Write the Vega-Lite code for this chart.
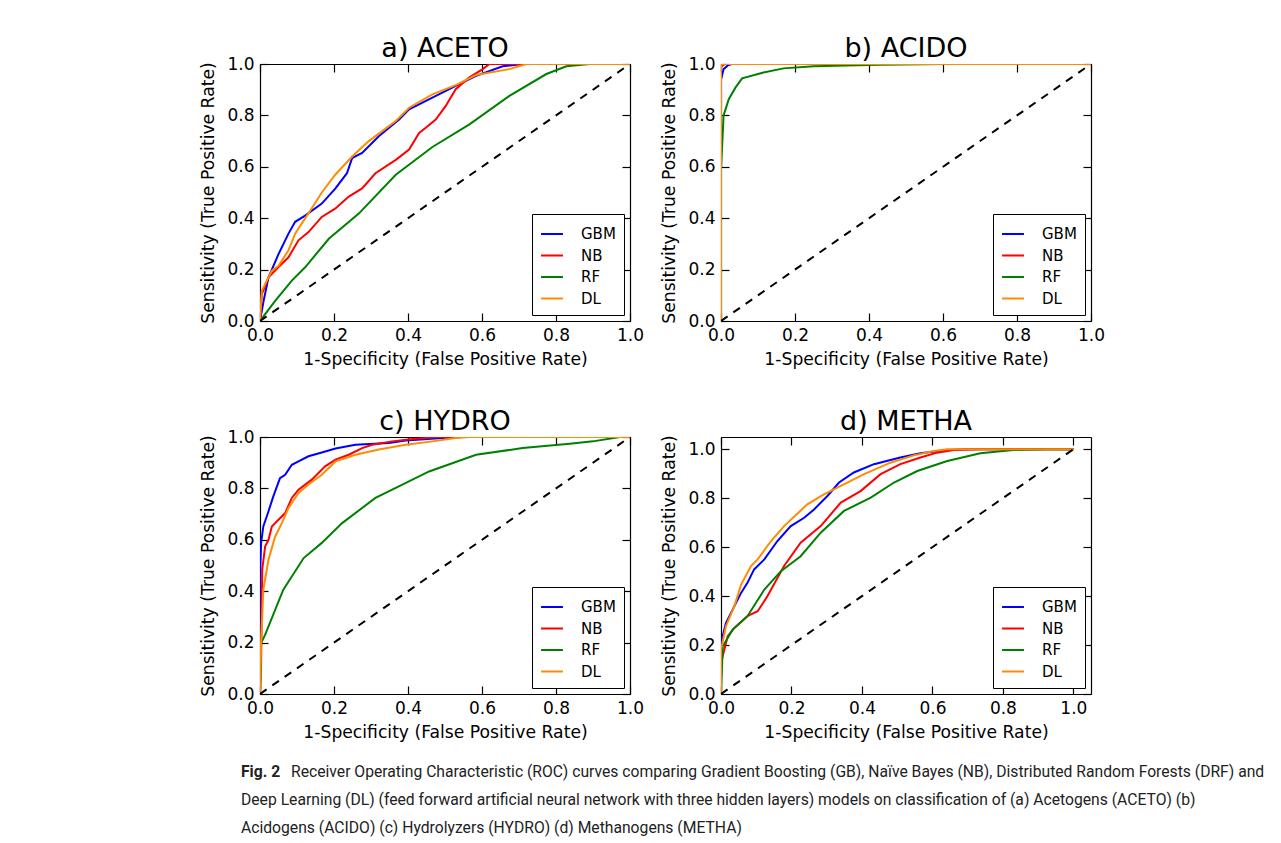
{
  "$schema": "https://vega.github.io/schema/vega-lite/v6.json",
  "background": "white",
  "padding": {"left": 199, "top": 35, "right": 5, "bottom": 5},
  "datasets": {
    "roc": [
      {"p":"a","m":"GBM","i":0,"x":0,"y":0},{"p":"a","m":"GBM","i":1,"x":0.01,"y":0.08},{"p":"a","m":"GBM","i":2,"x":0.023,"y":0.17},{"p":"a","m":"GBM","i":3,"x":0.05,"y":0.26},{"p":"a","m":"GBM","i":4,"x":0.077,"y":0.34},{"p":"a","m":"GBM","i":5,"x":0.095,"y":0.386},{"p":"a","m":"GBM","i":6,"x":0.122,"y":0.41},{"p":"a","m":"GBM","i":7,"x":0.167,"y":0.457},{"p":"a","m":"GBM","i":8,"x":0.204,"y":0.516},{"p":"a","m":"GBM","i":9,"x":0.235,"y":0.575},{"p":"a","m":"GBM","i":10,"x":0.249,"y":0.634},{"p":"a","m":"GBM","i":11,"x":0.276,"y":0.654},{"p":"a","m":"GBM","i":12,"x":0.321,"y":0.719},{"p":"a","m":"GBM","i":13,"x":0.376,"y":0.784},{"p":"a","m":"GBM","i":14,"x":0.403,"y":0.824},{"p":"a","m":"GBM","i":15,"x":0.466,"y":0.869},{"p":"a","m":"GBM","i":16,"x":0.529,"y":0.915},{"p":"a","m":"GBM","i":17,"x":0.584,"y":0.954},{"p":"a","m":"GBM","i":18,"x":0.656,"y":0.991},{"p":"a","m":"GBM","i":19,"x":0.71,"y":1.0},{"p":"a","m":"GBM","i":20,"x":1,"y":1},
      {"p":"a","m":"NB","i":0,"x":0,"y":0},{"p":"a","m":"NB","i":1,"x":0.005,"y":0.105},{"p":"a","m":"NB","i":2,"x":0.023,"y":0.17},{"p":"a","m":"NB","i":3,"x":0.05,"y":0.21},{"p":"a","m":"NB","i":4,"x":0.077,"y":0.248},{"p":"a","m":"NB","i":5,"x":0.104,"y":0.314},{"p":"a","m":"NB","i":6,"x":0.131,"y":0.346},{"p":"a","m":"NB","i":7,"x":0.167,"y":0.405},{"p":"a","m":"NB","i":8,"x":0.204,"y":0.438},{"p":"a","m":"NB","i":9,"x":0.24,"y":0.484},{"p":"a","m":"NB","i":10,"x":0.276,"y":0.516},{"p":"a","m":"NB","i":11,"x":0.312,"y":0.575},{"p":"a","m":"NB","i":12,"x":0.367,"y":0.627},{"p":"a","m":"NB","i":13,"x":0.403,"y":0.667},{"p":"a","m":"NB","i":14,"x":0.43,"y":0.732},{"p":"a","m":"NB","i":15,"x":0.448,"y":0.752},{"p":"a","m":"NB","i":16,"x":0.475,"y":0.784},{"p":"a","m":"NB","i":17,"x":0.502,"y":0.837},{"p":"a","m":"NB","i":18,"x":0.529,"y":0.902},{"p":"a","m":"NB","i":19,"x":0.566,"y":0.948},{"p":"a","m":"NB","i":20,"x":0.602,"y":0.98},{"p":"a","m":"NB","i":21,"x":0.62,"y":1.0},{"p":"a","m":"NB","i":22,"x":1,"y":1},
      {"p":"a","m":"RF","i":0,"x":0,"y":0},{"p":"a","m":"RF","i":1,"x":0.041,"y":0.078},{"p":"a","m":"RF","i":2,"x":0.086,"y":0.157},{"p":"a","m":"RF","i":3,"x":0.122,"y":0.209},{"p":"a","m":"RF","i":4,"x":0.186,"y":0.32},{"p":"a","m":"RF","i":5,"x":0.267,"y":0.418},{"p":"a","m":"RF","i":6,"x":0.367,"y":0.569},{"p":"a","m":"RF","i":7,"x":0.466,"y":0.677},{"p":"a","m":"RF","i":8,"x":0.566,"y":0.765},{"p":"a","m":"RF","i":9,"x":0.674,"y":0.876},{"p":"a","m":"RF","i":10,"x":0.774,"y":0.961},{"p":"a","m":"RF","i":11,"x":0.828,"y":0.991},{"p":"a","m":"RF","i":12,"x":0.891,"y":1.0},{"p":"a","m":"RF","i":13,"x":1,"y":1},
      {"p":"a","m":"DL","i":0,"x":0,"y":0},{"p":"a","m":"DL","i":1,"x":0.005,"y":0.118},{"p":"a","m":"DL","i":2,"x":0.032,"y":0.196},{"p":"a","m":"DL","i":3,"x":0.05,"y":0.215},{"p":"a","m":"DL","i":4,"x":0.077,"y":0.275},{"p":"a","m":"DL","i":5,"x":0.095,"y":0.34},{"p":"a","m":"DL","i":6,"x":0.113,"y":0.38},{"p":"a","m":"DL","i":7,"x":0.136,"y":0.43},{"p":"a","m":"DL","i":8,"x":0.167,"y":0.5},{"p":"a","m":"DL","i":9,"x":0.204,"y":0.57},{"p":"a","m":"DL","i":10,"x":0.249,"y":0.64},{"p":"a","m":"DL","i":11,"x":0.294,"y":0.70},{"p":"a","m":"DL","i":12,"x":0.33,"y":0.739},{"p":"a","m":"DL","i":13,"x":0.367,"y":0.778},{"p":"a","m":"DL","i":14,"x":0.403,"y":0.83},{"p":"a","m":"DL","i":15,"x":0.466,"y":0.882},{"p":"a","m":"DL","i":16,"x":0.529,"y":0.918},{"p":"a","m":"DL","i":17,"x":0.584,"y":0.957},{"p":"a","m":"DL","i":18,"x":0.674,"y":0.98},{"p":"a","m":"DL","i":19,"x":0.72,"y":1.0},{"p":"a","m":"DL","i":20,"x":1,"y":1},

      {"p":"b","m":"GBM","i":0,"x":0,"y":0},{"p":"b","m":"GBM","i":1,"x":0,"y":0.94},{"p":"b","m":"GBM","i":2,"x":0.007,"y":0.98},{"p":"b","m":"GBM","i":3,"x":0.02,"y":0.996},{"p":"b","m":"GBM","i":4,"x":0.03,"y":1},{"p":"b","m":"GBM","i":5,"x":1,"y":1},
      {"p":"b","m":"NB","i":0,"x":0,"y":0},{"p":"b","m":"NB","i":1,"x":0,"y":0.99},{"p":"b","m":"NB","i":2,"x":0.01,"y":1},{"p":"b","m":"NB","i":3,"x":1,"y":1},
      {"p":"b","m":"RF","i":0,"x":0,"y":0},{"p":"b","m":"RF","i":1,"x":0,"y":0.59},{"p":"b","m":"RF","i":2,"x":0.007,"y":0.80},{"p":"b","m":"RF","i":3,"x":0.021,"y":0.863},{"p":"b","m":"RF","i":4,"x":0.039,"y":0.908},{"p":"b","m":"RF","i":5,"x":0.057,"y":0.944},{"p":"b","m":"RF","i":6,"x":0.115,"y":0.967},{"p":"b","m":"RF","i":7,"x":0.169,"y":0.983},{"p":"b","m":"RF","i":8,"x":0.25,"y":0.991},{"p":"b","m":"RF","i":9,"x":0.43,"y":0.997},{"p":"b","m":"RF","i":10,"x":0.61,"y":1},{"p":"b","m":"RF","i":11,"x":1,"y":1},
      {"p":"b","m":"DL","i":0,"x":0,"y":0},{"p":"b","m":"DL","i":1,"x":0,"y":0.995},{"p":"b","m":"DL","i":2,"x":0.005,"y":1},{"p":"b","m":"DL","i":3,"x":1,"y":1},

      {"p":"c","m":"GBM","i":0,"x":0,"y":0},{"p":"c","m":"GBM","i":1,"x":0.001,"y":0.5},{"p":"c","m":"GBM","i":2,"x":0.003,"y":0.588},{"p":"c","m":"GBM","i":3,"x":0.009,"y":0.652},{"p":"c","m":"GBM","i":4,"x":0.023,"y":0.711},{"p":"c","m":"GBM","i":5,"x":0.036,"y":0.769},{"p":"c","m":"GBM","i":6,"x":0.054,"y":0.84},{"p":"c","m":"GBM","i":7,"x":0.068,"y":0.853},{"p":"c","m":"GBM","i":8,"x":0.086,"y":0.892},{"p":"c","m":"GBM","i":9,"x":0.104,"y":0.905},{"p":"c","m":"GBM","i":10,"x":0.131,"y":0.925},{"p":"c","m":"GBM","i":11,"x":0.167,"y":0.94},{"p":"c","m":"GBM","i":12,"x":0.204,"y":0.955},{"p":"c","m":"GBM","i":13,"x":0.258,"y":0.97},{"p":"c","m":"GBM","i":14,"x":0.348,"y":0.977},{"p":"c","m":"GBM","i":15,"x":0.394,"y":0.986},{"p":"c","m":"GBM","i":16,"x":0.493,"y":0.996},{"p":"c","m":"GBM","i":17,"x":0.548,"y":1},{"p":"c","m":"GBM","i":18,"x":1,"y":1},
      {"p":"c","m":"NB","i":0,"x":0,"y":0},{"p":"c","m":"NB","i":1,"x":0.003,"y":0.12},{"p":"c","m":"NB","i":2,"x":0.006,"y":0.484},{"p":"c","m":"NB","i":3,"x":0.014,"y":0.575},{"p":"c","m":"NB","i":4,"x":0.023,"y":0.60},{"p":"c","m":"NB","i":5,"x":0.032,"y":0.652},{"p":"c","m":"NB","i":6,"x":0.05,"y":0.678},{"p":"c","m":"NB","i":7,"x":0.068,"y":0.704},{"p":"c","m":"NB","i":8,"x":0.086,"y":0.763},{"p":"c","m":"NB","i":9,"x":0.104,"y":0.795},{"p":"c","m":"NB","i":10,"x":0.14,"y":0.834},{"p":"c","m":"NB","i":11,"x":0.176,"y":0.886},{"p":"c","m":"NB","i":12,"x":0.204,"y":0.912},{"p":"c","m":"NB","i":13,"x":0.24,"y":0.931},{"p":"c","m":"NB","i":14,"x":0.276,"y":0.957},{"p":"c","m":"NB","i":15,"x":0.303,"y":0.97},{"p":"c","m":"NB","i":16,"x":0.357,"y":0.983},{"p":"c","m":"NB","i":17,"x":0.412,"y":0.992},{"p":"c","m":"NB","i":18,"x":0.484,"y":1},{"p":"c","m":"NB","i":19,"x":1,"y":1},
      {"p":"c","m":"RF","i":0,"x":0,"y":0},{"p":"c","m":"RF","i":1,"x":0.003,"y":0.198},{"p":"c","m":"RF","i":2,"x":0.014,"y":0.231},{"p":"c","m":"RF","i":3,"x":0.063,"y":0.406},{"p":"c","m":"RF","i":4,"x":0.118,"y":0.529},{"p":"c","m":"RF","i":5,"x":0.167,"y":0.588},{"p":"c","m":"RF","i":6,"x":0.222,"y":0.665},{"p":"c","m":"RF","i":7,"x":0.312,"y":0.763},{"p":"c","m":"RF","i":8,"x":0.367,"y":0.802},{"p":"c","m":"RF","i":9,"x":0.457,"y":0.866},{"p":"c","m":"RF","i":10,"x":0.584,"y":0.931},{"p":"c","m":"RF","i":11,"x":0.71,"y":0.957},{"p":"c","m":"RF","i":12,"x":0.837,"y":0.974},{"p":"c","m":"RF","i":13,"x":0.9,"y":0.983},{"p":"c","m":"RF","i":14,"x":0.973,"y":1},{"p":"c","m":"RF","i":15,"x":1,"y":1},
      {"p":"c","m":"DL","i":0,"x":0,"y":0},{"p":"c","m":"DL","i":1,"x":0.003,"y":0.198},{"p":"c","m":"DL","i":2,"x":0.009,"y":0.406},{"p":"c","m":"DL","i":3,"x":0.023,"y":0.523},{"p":"c","m":"DL","i":4,"x":0.041,"y":0.613},{"p":"c","m":"DL","i":5,"x":0.059,"y":0.665},{"p":"c","m":"DL","i":6,"x":0.077,"y":0.724},{"p":"c","m":"DL","i":7,"x":0.104,"y":0.782},{"p":"c","m":"DL","i":8,"x":0.131,"y":0.815},{"p":"c","m":"DL","i":9,"x":0.167,"y":0.853},{"p":"c","m":"DL","i":10,"x":0.204,"y":0.905},{"p":"c","m":"DL","i":11,"x":0.258,"y":0.931},{"p":"c","m":"DL","i":12,"x":0.321,"y":0.951},{"p":"c","m":"DL","i":13,"x":0.394,"y":0.97},{"p":"c","m":"DL","i":14,"x":0.466,"y":0.983},{"p":"c","m":"DL","i":15,"x":0.529,"y":0.996},{"p":"c","m":"DL","i":16,"x":0.566,"y":1},{"p":"c","m":"DL","i":17,"x":1,"y":1},

      {"p":"d","m":"GBM","i":0,"x":0,"y":0},{"p":"d","m":"GBM","i":1,"x":0,"y":0.209},{"p":"d","m":"GBM","i":2,"x":0.014,"y":0.29},{"p":"d","m":"GBM","i":3,"x":0.038,"y":0.359},{"p":"d","m":"GBM","i":4,"x":0.057,"y":0.413},{"p":"d","m":"GBM","i":5,"x":0.075,"y":0.454},{"p":"d","m":"GBM","i":6,"x":0.094,"y":0.509},{"p":"d","m":"GBM","i":7,"x":0.123,"y":0.55},{"p":"d","m":"GBM","i":8,"x":0.16,"y":0.625},{"p":"d","m":"GBM","i":9,"x":0.198,"y":0.686},{"p":"d","m":"GBM","i":10,"x":0.236,"y":0.72},{"p":"d","m":"GBM","i":11,"x":0.264,"y":0.754},{"p":"d","m":"GBM","i":12,"x":0.302,"y":0.809},{"p":"d","m":"GBM","i":13,"x":0.335,"y":0.864},{"p":"d","m":"GBM","i":14,"x":0.377,"y":0.905},{"p":"d","m":"GBM","i":15,"x":0.434,"y":0.939},{"p":"d","m":"GBM","i":16,"x":0.509,"y":0.966},{"p":"d","m":"GBM","i":17,"x":0.566,"y":0.984},{"p":"d","m":"GBM","i":18,"x":0.642,"y":0.997},{"p":"d","m":"GBM","i":19,"x":0.698,"y":1},{"p":"d","m":"GBM","i":20,"x":1,"y":1},
      {"p":"d","m":"NB","i":0,"x":0,"y":0},{"p":"d","m":"NB","i":1,"x":0,"y":0.127},{"p":"d","m":"NB","i":2,"x":0.019,"y":0.236},{"p":"d","m":"NB","i":3,"x":0.038,"y":0.27},{"p":"d","m":"NB","i":4,"x":0.075,"y":0.318},{"p":"d","m":"NB","i":5,"x":0.104,"y":0.338},{"p":"d","m":"NB","i":6,"x":0.132,"y":0.40},{"p":"d","m":"NB","i":7,"x":0.179,"y":0.523},{"p":"d","m":"NB","i":8,"x":0.226,"y":0.618},{"p":"d","m":"NB","i":9,"x":0.283,"y":0.686},{"p":"d","m":"NB","i":10,"x":0.34,"y":0.782},{"p":"d","m":"NB","i":11,"x":0.396,"y":0.829},{"p":"d","m":"NB","i":12,"x":0.453,"y":0.898},{"p":"d","m":"NB","i":13,"x":0.509,"y":0.939},{"p":"d","m":"NB","i":14,"x":0.566,"y":0.966},{"p":"d","m":"NB","i":15,"x":0.613,"y":0.986},{"p":"d","m":"NB","i":16,"x":0.66,"y":0.997},{"p":"d","m":"NB","i":17,"x":0.736,"y":1},{"p":"d","m":"NB","i":18,"x":1,"y":1},
      {"p":"d","m":"RF","i":0,"x":0,"y":0},{"p":"d","m":"RF","i":1,"x":0.005,"y":0.195},{"p":"d","m":"RF","i":2,"x":0.033,"y":0.263},{"p":"d","m":"RF","i":3,"x":0.075,"y":0.318},{"p":"d","m":"RF","i":4,"x":0.123,"y":0.427},{"p":"d","m":"RF","i":5,"x":0.17,"y":0.502},{"p":"d","m":"RF","i":6,"x":0.226,"y":0.563},{"p":"d","m":"RF","i":7,"x":0.283,"y":0.659},{"p":"d","m":"RF","i":8,"x":0.349,"y":0.748},{"p":"d","m":"RF","i":9,"x":0.425,"y":0.802},{"p":"d","m":"RF","i":10,"x":0.491,"y":0.864},{"p":"d","m":"RF","i":11,"x":0.557,"y":0.911},{"p":"d","m":"RF","i":12,"x":0.642,"y":0.952},{"p":"d","m":"RF","i":13,"x":0.736,"y":0.984},{"p":"d","m":"RF","i":14,"x":0.83,"y":0.997},{"p":"d","m":"RF","i":15,"x":0.925,"y":1},{"p":"d","m":"RF","i":16,"x":1,"y":1},
      {"p":"d","m":"DL","i":0,"x":0,"y":0},{"p":"d","m":"DL","i":1,"x":0,"y":0.18},{"p":"d","m":"DL","i":2,"x":0.014,"y":0.277},{"p":"d","m":"DL","i":3,"x":0.038,"y":0.359},{"p":"d","m":"DL","i":4,"x":0.057,"y":0.447},{"p":"d","m":"DL","i":5,"x":0.085,"y":0.523},{"p":"d","m":"DL","i":6,"x":0.104,"y":0.55},{"p":"d","m":"DL","i":7,"x":0.142,"y":0.625},{"p":"d","m":"DL","i":8,"x":0.179,"y":0.686},{"p":"d","m":"DL","i":9,"x":0.245,"y":0.775},{"p":"d","m":"DL","i":10,"x":0.292,"y":0.816},{"p":"d","m":"DL","i":11,"x":0.34,"y":0.85},{"p":"d","m":"DL","i":12,"x":0.406,"y":0.898},{"p":"d","m":"DL","i":13,"x":0.481,"y":0.945},{"p":"d","m":"DL","i":14,"x":0.547,"y":0.975},{"p":"d","m":"DL","i":15,"x":0.604,"y":0.993},{"p":"d","m":"DL","i":16,"x":0.642,"y":1},{"p":"d","m":"DL","i":17,"x":1,"y":1}
    ],
    "diag": [{"x":0,"y":0},{"x":1,"y":1}],
    "caption1": [
      {"line":1,"text":"Receiver Operating Characteristic (ROC) curves comparing Gradient Boosting (GB), Naïve Bayes (NB), Distributed Random Forests (DRF) and"}
    ],
    "caption": [
      {"line":2,"text":"Deep Learning (DL) (feed forward artificial neural network with three hidden layers) models on classification of (a) Acetogens (ACETO) (b)"},
      {"line":3,"text":"Acidogens (ACIDO) (c) Hydrolyzers (HYDRO) (d) Methanogens (METHA)"}
    ],
    "capbold": [{"line":1,"text":"Fig. 2"}]
  },
  "config": {
    "view": {"stroke": null},
    "font": "DejaVu Sans",
    "axis": {"grid": false, "domainColor": "black", "domainWidth": 1.2, "tickColor": "black", "tickWidth": 1.2, "tickSize": -8, "labelPadding": 14, "labelFlush": false, "labelFont": "DejaVu Sans", "labelFontSize": 17, "labelColor": "black", "titleFont": "DejaVu Sans", "titleFontSize": 17.2, "titleFontWeight": "normal", "titleColor": "black"},
    "axisTop": {"labels": false},
    "axisRight": {"labels": false},
    "axisX": {"titlePadding": 7},
    "axisY": {"titlePadding": 9},
    "legend": {"orient": "bottom-right", "offset": 6, "strokeColor": "black", "fillColor": "white", "padding": 8, "symbolType": "stroke", "symbolStrokeWidth": 2, "symbolSize": 480, "labelFont": "DejaVu Sans", "labelFontSize": 15, "labelColor": "black", "labelOffset": 17, "rowPadding": 1.5, "cornerRadius": 0},
    "title": {"font": "DejaVu Sans", "fontSize": 27, "fontWeight": "normal", "color": "black", "offset": -8}
  },
  "resolve": {"scale": {"color": "independent"}, "legend": {"color": "independent"}},
  "spacing": 17,
  "vconcat": [
   {"vconcat": [
    {"hconcat": [
      {"title": {"text": "a) ACETO"}, "width": 370, "height": 257,
       "layer": [
        {"data": {"name": "roc"}, "transform": [{"filter": "datum.p === 'a'"}],
         "mark": {"type": "line", "strokeWidth": 2, "clip": true},
         "encoding": {
          "x": {"field": "x", "type": "quantitative", "scale": {"domain": [0, 1], "nice": false}, "axis": {"orient": "bottom", "title": "1-Specificity (False Positive Rate)", "values": [0, 0.2, 0.4, 0.6, 0.8, 1.0], "format": ".1f"}},
          "y": {"field": "y", "type": "quantitative", "scale": {"domain": [0, 1], "nice": false}, "axis": {"orient": "left", "title": "Sensitivity (True Positive Rate)", "values": [0, 0.2, 0.4, 0.6, 0.8, 1.0], "format": ".1f"}},
          "color": {"field": "m", "type": "nominal", "scale": {"domain": ["GBM", "NB", "RF", "DL"], "range": ["#0000ff", "#ff0000", "#008000", "#ff8c00"]}, "legend": {"title": null, "orient": "bottom-right"}},
          "order": {"field": "i", "type": "quantitative"}}},
        {"data": {"name": "diag"}, "mark": {"type": "line", "color": "black", "strokeWidth": 2, "strokeDash": [8, 7], "clip": true},
         "encoding": {
          "x": {"field": "x", "type": "quantitative", "axis": {"orient": "top", "title": null, "values": [0, 0.2, 0.4, 0.6, 0.8, 1.0]}},
          "y": {"field": "y", "type": "quantitative", "axis": {"orient": "right", "title": null, "values": [0, 0.2, 0.4, 0.6, 0.8, 1.0]}}}}
       ],
       "resolve": {"axis": {"x": "independent", "y": "independent"}}},
      {"title": {"text": "b) ACIDO"}, "width": 370, "height": 257,
       "layer": [
        {"data": {"name": "roc"}, "transform": [{"filter": "datum.p === 'b'"}],
         "mark": {"type": "line", "strokeWidth": 2, "clip": true},
         "encoding": {
          "x": {"field": "x", "type": "quantitative", "scale": {"domain": [0, 1], "nice": false}, "axis": {"orient": "bottom", "title": "1-Specificity (False Positive Rate)", "values": [0, 0.2, 0.4, 0.6, 0.8, 1.0], "format": ".1f"}},
          "y": {"field": "y", "type": "quantitative", "scale": {"domain": [0, 1], "nice": false}, "axis": {"orient": "left", "title": "Sensitivity (True Positive Rate)", "values": [0, 0.2, 0.4, 0.6, 0.8, 1.0], "format": ".1f"}},
          "color": {"field": "m", "type": "nominal", "scale": {"domain": ["GBM", "NB", "RF", "DL"], "range": ["#0000ff", "#ff0000", "#008000", "#ff8c00"]}, "legend": {"title": null, "orient": "bottom-right"}},
          "order": {"field": "i", "type": "quantitative"}}},
        {"data": {"name": "diag"}, "mark": {"type": "line", "color": "black", "strokeWidth": 2, "strokeDash": [8, 7], "clip": true},
         "encoding": {
          "x": {"field": "x", "type": "quantitative", "axis": {"orient": "top", "title": null, "values": [0, 0.2, 0.4, 0.6, 0.8, 1.0]}},
          "y": {"field": "y", "type": "quantitative", "axis": {"orient": "right", "title": null, "values": [0, 0.2, 0.4, 0.6, 0.8, 1.0]}}}}
       ],
       "resolve": {"axis": {"x": "independent", "y": "independent"}}}
    ], "spacing": 16, "resolve": {"scale": {"color": "independent"}, "legend": {"color": "independent"}}},
    {"hconcat": [
      {"title": {"text": "c) HYDRO"}, "width": 370, "height": 257,
       "layer": [
        {"data": {"name": "roc"}, "transform": [{"filter": "datum.p === 'c'"}],
         "mark": {"type": "line", "strokeWidth": 2, "clip": true},
         "encoding": {
          "x": {"field": "x", "type": "quantitative", "scale": {"domain": [0, 1], "nice": false}, "axis": {"orient": "bottom", "title": "1-Specificity (False Positive Rate)", "values": [0, 0.2, 0.4, 0.6, 0.8, 1.0], "format": ".1f"}},
          "y": {"field": "y", "type": "quantitative", "scale": {"domain": [0, 1], "nice": false}, "axis": {"orient": "left", "title": "Sensitivity (True Positive Rate)", "values": [0, 0.2, 0.4, 0.6, 0.8, 1.0], "format": ".1f"}},
          "color": {"field": "m", "type": "nominal", "scale": {"domain": ["GBM", "NB", "RF", "DL"], "range": ["#0000ff", "#ff0000", "#008000", "#ff8c00"]}, "legend": {"title": null, "orient": "bottom-right"}},
          "order": {"field": "i", "type": "quantitative"}}},
        {"data": {"name": "diag"}, "mark": {"type": "line", "color": "black", "strokeWidth": 2, "strokeDash": [8, 7], "clip": true},
         "encoding": {
          "x": {"field": "x", "type": "quantitative", "axis": {"orient": "top", "title": null, "values": [0, 0.2, 0.4, 0.6, 0.8, 1.0]}},
          "y": {"field": "y", "type": "quantitative", "axis": {"orient": "right", "title": null, "values": [0, 0.2, 0.4, 0.6, 0.8, 1.0]}}}}
       ],
       "resolve": {"axis": {"x": "independent", "y": "independent"}}},
      {"title": {"text": "d) METHA", "offset": -1}, "width": 370, "height": 257,
       "layer": [
        {"data": {"name": "roc"}, "transform": [{"filter": "datum.p === 'd'"}],
         "mark": {"type": "line", "strokeWidth": 2, "clip": true},
         "encoding": {
          "x": {"field": "x", "type": "quantitative", "scale": {"domain": [0, 1.05], "nice": false}, "axis": {"orient": "bottom", "title": "1-Specificity (False Positive Rate)", "values": [0, 0.2, 0.4, 0.6, 0.8, 1.0], "format": ".1f"}},
          "y": {"field": "y", "type": "quantitative", "scale": {"domain": [0, 1.05], "nice": false}, "axis": {"orient": "left", "title": "Sensitivity (True Positive Rate)", "values": [0, 0.2, 0.4, 0.6, 0.8, 1.0], "format": ".1f"}},
          "color": {"field": "m", "type": "nominal", "scale": {"domain": ["GBM", "NB", "RF", "DL"], "range": ["#0000ff", "#ff0000", "#008000", "#ff8c00"]}, "legend": {"title": null, "orient": "bottom-right"}},
          "order": {"field": "i", "type": "quantitative"}}},
        {"data": {"name": "diag"}, "mark": {"type": "line", "color": "black", "strokeWidth": 2, "strokeDash": [8, 7], "clip": true},
         "encoding": {
          "x": {"field": "x", "type": "quantitative", "axis": {"orient": "top", "title": null, "values": [0, 0.2, 0.4, 0.6, 0.8, 1.0]}},
          "y": {"field": "y", "type": "quantitative", "axis": {"orient": "right", "title": null, "values": [0, 0.2, 0.4, 0.6, 0.8, 1.0]}}}}
       ],
       "resolve": {"axis": {"x": "independent", "y": "independent"}}}
    ], "spacing": 16, "resolve": {"scale": {"color": "independent"}, "legend": {"color": "independent"}}}
   ], "spacing": 39, "resolve": {"scale": {"color": "independent"}, "legend": {"color": "independent"}}},
    {"width": 1040, "height": 84,
     "layer": [
      {"data": {"name": "capbold"},
       "mark": {"type": "text", "align": "left", "baseline": "middle", "font": "Roboto", "fontSize": 15.7, "fontWeight": "bold", "color": "#222", "dx": -19},
       "encoding": {"y": {"field": "line", "type": "ordinal", "axis": null, "scale": {"domain": [1, 2, 3]}}, "x": {"value": 0}, "text": {"field": "text"}}},
      {"data": {"name": "caption1"},
       "mark": {"type": "text", "align": "left", "baseline": "middle", "font": "Roboto", "fontSize": 15.7, "color": "#222", "dx": 31},
       "encoding": {"y": {"field": "line", "type": "ordinal", "axis": null, "scale": {"domain": [1, 2, 3]}}, "x": {"value": 0}, "text": {"field": "text"}}},
      {"data": {"name": "caption"},
       "mark": {"type": "text", "align": "left", "baseline": "middle", "font": "Roboto", "fontSize": 15.7, "color": "#222", "dx": -19},
       "encoding": {"y": {"field": "line", "type": "ordinal", "axis": null, "scale": {"domain": [1, 2, 3]}}, "x": {"value": 0}, "text": {"field": "text"}}}
     ]}
  ]
}
